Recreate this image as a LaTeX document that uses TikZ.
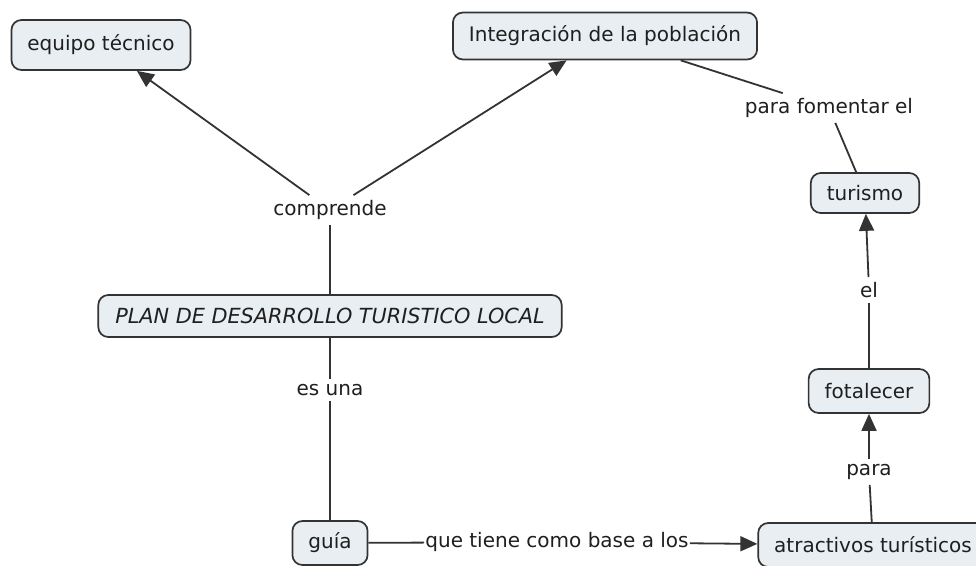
\documentclass[tikz,border=0pt]{standalone}
\usepackage{fontspec}
\setmainfont{DejaVu Sans}
\usetikzlibrary{arrows.meta}
\definecolor{cmapfill}{HTML}{E8EEF2}
\definecolor{cmapline}{HTML}{333333}
\begin{document}
\begin{tikzpicture}[x=1pt,y=-1pt,
		concept/.style={draw=cmapline,line width=1.7pt,fill=cmapfill,rounded corners=10pt,inner xsep=16pt,minimum height=44pt,font=\fontsize{20}{24}\selectfont,text=black!88},
		phrase/.style={fill=white,inner xsep=1pt,inner ysep=5pt,font=\fontsize{20}{24}\selectfont,text=black!88},
		link/.style={draw=cmapline,line width=1.8pt},
		tip/.style={link,-{Triangle[length=17pt,width=15pt]}}]
			\useasboundingbox[fill=white] (0,0) rectangle (976,565);
			\node[concept,minimum height=50pt] (equipo) at (101,45) {equipo técnico};
			\node[concept,minimum height=47pt] (integracion) at (605,36) {Integración de la población};
			\node[concept,minimum height=42pt,inner xsep=17pt,font=\fontsize{20.8}{24}\selectfont\itshape] (plan) at (330,316) {PLAN DE DESARROLLO TURISTICO LOCAL};
			\node[concept] (guia) at (330,543) {guía};
			\node[concept] (atractivos) at (873,545) {atractivos turísticos};
			\node[concept] (fotalecer) at (869,391) {fotalecer};
			\node[concept,minimum height=40pt] (turismo) at (865,193) {turismo};
			\node[phrase,inner xsep=5pt] (comprende) at (330,210) {comprende};
			\node[phrase] (esuna) at (330,390) {es una};
			\node[phrase] (base) at (557,542) {que tiene como base a los};
			\node[phrase] (para) at (869,472) {para};
			\node[phrase] (el) at (869,290) {el};
			\node[phrase,inner xsep=5pt] (fomentar) at (829,108) {para fomentar el};
			\draw[link] (plan) -- (comprende);
			\draw[tip] (comprende) -- (equipo);
			\draw[tip] (comprende) -- (integracion);
			\draw[link] (plan) -- (esuna);
			\draw[link] (esuna) -- (guia);
			\draw[link] (guia) -- (base);
			\draw[tip] (base) -- (atractivos);
			\draw[link] (atractivos) -- (para);
			\draw[tip] (para) -- (fotalecer);
			\draw[link] (fotalecer) -- (el);
			\draw[tip] (el) -- (turismo);
			\draw[link] (turismo) -- (fomentar);
			\draw[link] (fomentar) -- (integracion);
		\end{tikzpicture}
\end{document}
